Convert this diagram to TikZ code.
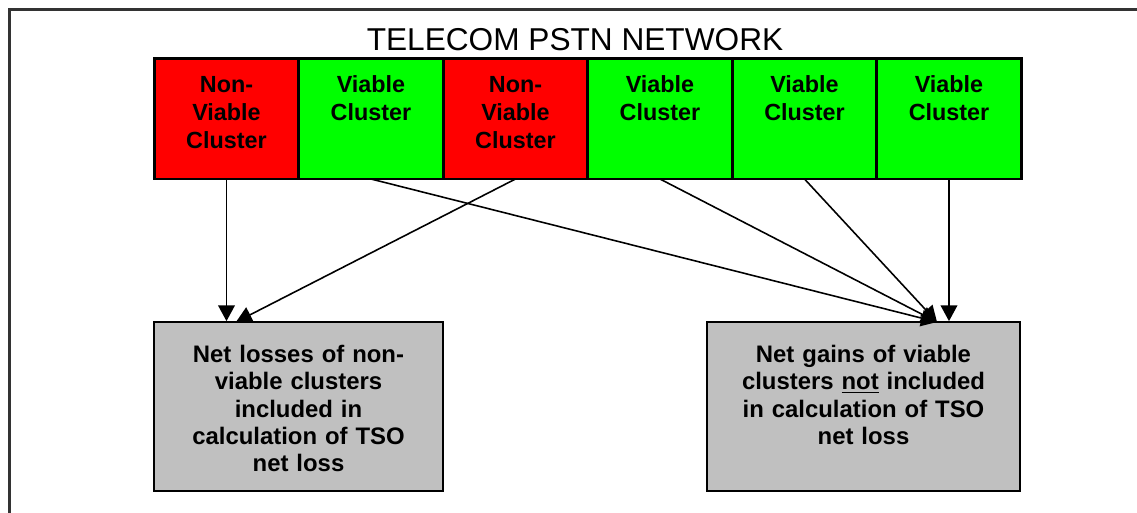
\documentclass[tikz,border=0pt]{standalone}
\usepackage{fontspec}
\setmainfont{Liberation Sans}
\usetikzlibrary{arrows.meta}
\definecolor{nvred}{HTML}{FF0000}
\definecolor{vgreen}{HTML}{00FF00}
\definecolor{boxgray}{HTML}{C0C0C0}
\definecolor{framegray}{HTML}{333333}

\begin{document}
\begin{tikzpicture}[x=0.02cm,y=-0.02cm,
  cluster/.style={draw,line width=1.7pt,outer sep=0pt,inner sep=0pt,minimum width=2.89cm,minimum height=2.42cm,text width=2.7cm,align=center,font=\fontsize{13.3}{15.9}\selectfont\bfseries,text height=19.6pt,text depth=49pt},
  result/.style={draw,line width=1pt,fill=boxgray,inner sep=0pt,minimum height=3.38cm,align=center,font=\fontsize{13.6}{15.6}\selectfont\bfseries,text height=22.7pt,text depth=73pt},
  feed/.style={line width=0.9pt,-{Triangle[length=9pt,width=9.5pt]}}]
\useasboundingbox (0,0) rectangle (1137,512);
\draw[framegray,line width=1.7pt] (9.5,520) -- (9.5,9) -- (1145,9);

\node[anchor=base,font=\fontsize{18}{20}\selectfont] (title) at (575,50) {TELECOM PSTN NETWORK};

\begin{scope}[every node/.style={cluster}]
\node[fill=nvred] (c1) at (226.5,118.5) {Non-\\Viable\\Cluster};
\node[fill=vgreen] (c2) at (371,118.5) {Viable\\Cluster};
\node[fill=nvred] (c3) at (515.5,118.5) {Non-\\Viable\\Cluster};
\node[fill=vgreen] (c4) at (660,118.5) {Viable\\Cluster};
\node[fill=vgreen] (c5) at (804.5,118.5) {Viable\\Cluster};
\node[fill=vgreen] (c6) at (949,118.5) {Viable\\Cluster};
\end{scope}

\node[result,minimum width=5.78cm,text width=5.3cm] (loss) at (298.5,406.5) {Net losses of non-\\viable clusters\\included in\\calculation of TSO\\net loss};
\node[result,minimum width=6.26cm,text width=5.8cm] (gain) at (863.5,406.5) {Net gains of viable\\clusters \underline{not} included\\in calculation of TSO\\net loss};

\coordinate (lossin) at (236,322);
\coordinate (gainin) at (937,322);

\draw[feed] (c1.south) -- (c1.south |- loss.north);
\draw[feed] (c3.south) -- (lossin);

\draw[feed] (c2.south) -- (gainin);
\draw[feed] (c4.south) -- (gainin);
\draw[feed] (c5.south) -- (gainin);
\draw[feed] (c6.south) -- (c6.south |- gain.north);
\end{tikzpicture}
\end{document}
